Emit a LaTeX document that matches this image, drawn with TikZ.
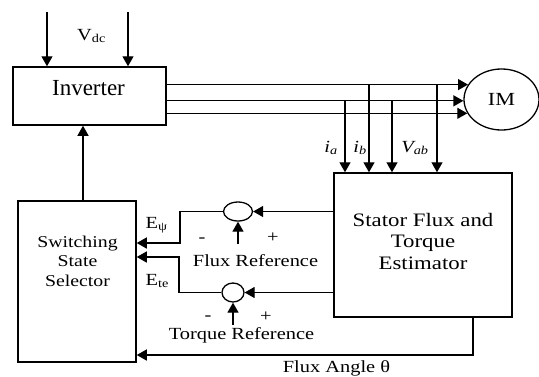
\documentclass[tikz,border=0pt]{standalone}
\usepackage{fontspec}
\setmainfont{Liberation Serif}[FakeStretch=1.2]
\newfontfamily\invfont{Liberation Serif}
\usetikzlibrary{arrows.meta, shapes.geometric}

\begin{document}
\begin{tikzpicture}[x=1pt, y=-1pt, line width=1.3pt, >={Triangle[length=10pt,width=11pt]},
	block/.style = {draw, rectangle, line width=1.5pt},
	sum/.style = {draw, ellipse, inner sep=0pt},
	txt/.style = {font=\fontsize{17}{20}\selectfont, inner sep=0pt}]
			\useasboundingbox (0,0) rectangle (539,376);
			\node[block, minimum width=153pt, minimum height=58pt] (inv) at (89.5,96) {};
			\node[txt, anchor=base, font=\invfont\fontsize{23}{26}\selectfont] (invtxt) at (88.5,95) {Inverter};
			\node[block, minimum width=118pt, minimum height=161pt] (sel) at (77,281.5) {};
			\node[txt, align=center, font=\fontsize{16.5}{19.5}\selectfont] (seltxt) at (77.5,261) {Switching\\State\\Selector};
			\node[block, minimum width=178pt, minimum height=144pt] (est) at (423,245) {};
			\node[txt, align=center, font=\fontsize{19}{21.5}\selectfont] (esttxt) at (423,241) {Stator Flux and\\Torque\\Estimator};
			\node[sum, minimum width=75pt, minimum height=61pt, font=\fontsize{18.5}{20}\selectfont] (im) at (501.5,99.5) {IM};
			\node[sum, minimum width=29pt, minimum height=19pt] (fsum) at (238,211.5) {};
			\node[sum, minimum width=22pt, minimum height=19pt] (tsum) at (233,292.5) {};
			
			\coordinate (vd1) at (47,12);
			\coordinate (vd2) at (128,12);
			\coordinate (ta) at (345,101);
			\coordinate (tb) at (369,85);
			\coordinate (tc) at (392,101);
			\coordinate (td) at (437,85);
			\coordinate (fb) at (180,243);
			\coordinate (tbnd) at (179,257);
			\coordinate (fr) at (238,244);
			\coordinate (tr) at (233,325);
			\coordinate (ang) at (473,355);
			
			\draw[->] (vd1) -- (vd1 |- inv.north);
			\draw[->] (vd2) -- (vd2 |- inv.north);
			\draw[->] ([xshift=6pt]sel.north) -- ([xshift=6pt]sel.north |- inv.south);
			\draw[->] (inv.east |- im.156) -- (im.156);
			\draw[->] (inv.east |- im.182) -- (im.182);
			\draw[->] (inv.east |- im.202) -- (im.202);
			\draw[->] (ta) -- (ta |- est.north);
			\draw[->] (tb) -- (tb |- est.north);
			\draw[->] (tc) -- (tc |- est.north);
			\draw[->] (td) -- (td |- est.north);
			\draw[->] (est.west |- fsum) -- (fsum);
			\draw[->] (est.west |- tsum) -- (tsum);
			\draw[->] (fsum.west) -| (fb) -- (fb -| sel.east);
			\draw[->] (tsum.west) -| (tbnd) -- (tbnd -| sel.east);
			\draw[->] (fr) -- (fsum.south);
			\draw[->] (tr) -- (tsum.south);
			\draw[->] (ang |- est.south) -- (ang) -- (ang -| sel.east);
			
			\node[txt, anchor=base] (vdc) at (91.5,40) {V\textsubscript{dc}};
			\node[txt, anchor=base] (ia) at (331,152) {\textit{i\textsubscript{a}}};
			\node[txt, anchor=base] (ib) at (360,152) {\textit{i\textsubscript{b}}};
			\node[txt, anchor=base] (vab) at (415,152) {\textit{V\textsubscript{ab}}};
			\node[txt, anchor=base west] (epsi) at (145,228) {E\textsubscript{ψ}};
			\node[txt, anchor=base west] (ete) at (145,285) {E\textsubscript{te}};
			\node[txt] (fm) at (202,240) {-};
			\node[txt] (fp) at (273,238) {+};
			\node[txt, anchor=base] (fref) at (255.5,266) {Flux Reference};
			\node[txt] (tm) at (208,318) {-};
			\node[txt] (tp) at (266,317) {+};
			\node[txt, anchor=base] (tref) at (241.5,339) {Torque Reference};
			\node[txt, anchor=base] (angl) at (336.5,372) {Flux Angle θ};
		\end{tikzpicture}
\end{document}
